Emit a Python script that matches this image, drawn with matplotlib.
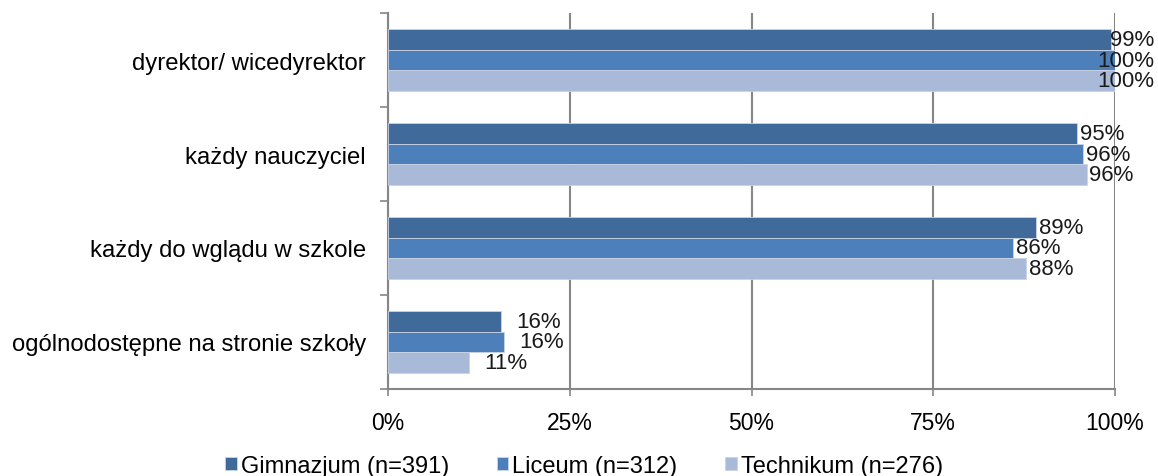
import matplotlib
matplotlib.use("Agg")
import matplotlib.pyplot as plt
import matplotlib.transforms as mtransforms
import numpy as np

plt.rcParams['font.family'] = ['Liberation Sans', 'DejaVu Sans']

categories = ["dyrektor/ wicedyrektor", "każdy nauczyciel", "każdy do wglądu w szkole",
              "ogólnodostępne na stronie szkoły"]
series_names = ["Gimnazjum (n=391)", "Liceum (n=312)", "Technikum (n=276)"]
gimnazjum = [99.5, 94.8, 89.1, 15.5]
liceum = [100.0, 95.6, 86.0, 16.0]
technikum = [100.0, 96.1, 87.8, 11.1]
labels_g = ["99%", "95%", "89%", "16%"]
labels_l = ["100%", "96%", "86%", "16%"]
labels_t = ["100%", "96%", "88%", "11%"]
xticks = [0, 25, 50, 75, 100]
xtick_labels = ["0%", "25%", "50%", "75%", "100%"]

colors = ["#3f6a9a", "#4d80bb", "#a9b9d8"]

W, H = 1158, 477
fig = plt.figure(figsize=(W / 100, H / 100), dpi=100)
ax = fig.add_axes([388 / W, 1 - 390 / H, (1115 - 388) / W, (390 - 14) / H])

h = 0.22
y = np.arange(len(categories))
data = [gimnazjum, liceum, technikum]
labs = [labels_g, labels_l, labels_t]
right_edge = mtransforms.blended_transform_factory(fig.transFigure, ax.transData)
for k, (vals, lab, c, name) in enumerate(zip(data, labs, colors, series_names)):
    pos = y + (k - 1) * h
    ax.barh(pos, vals, height=h, color=c, edgecolor="#c9d3e6", linewidth=0.6,
            label=name, zorder=3)
    for p, v, t in zip(pos, vals, lab):
        if v >= 99:
            ax.text(1154 / W, p, t, va="center", ha="right", fontsize=16,
                    color="#1a1a1a", zorder=4, transform=right_edge)
        else:
            off = 2 if v > 50 else 11
            ax.annotate(t, (v, p), xytext=(off, 0), textcoords="offset points",
                        va="center", ha="left", fontsize=16, color="#1a1a1a", zorder=4)

ax.set_xlim(0, 100)
ax.set_ylim(len(categories) - 0.5, -0.5)
ax.set_xticks(xticks)
ax.set_xticklabels(xtick_labels, fontsize=16.5)
ax.set_yticks(y)
ax.set_yticklabels(categories, fontsize=17.2)
ax.tick_params(axis='y', length=0, pad=16)
ax.set_yticks(np.arange(-0.5, len(categories) + 0.5, 1), minor=True)
ax.tick_params(axis='y', which='minor', length=6, color="#868686", width=1.2)
ax.tick_params(axis='x', length=5, color="#868686", width=1.2, pad=11)

for s in ["top", "right"]:
    ax.spines[s].set_visible(False)
for s in ["left", "bottom"]:
    ax.spines[s].set_color("#868686")
    ax.spines[s].set_linewidth(1.5)
ax.grid(axis='x', color="#868686", linewidth=1.5, zorder=0)
ax.set_axisbelow(True)

leg = fig.legend(loc="center", bbox_to_anchor=(584 / W, 1 - 467 / H), ncol=3, frameon=False,
                 fontsize=17, handlelength=0.5, handleheight=0.5, handletextpad=0.17,
                 columnspacing=2.0)

fig.savefig("out.png", dpi=100)
